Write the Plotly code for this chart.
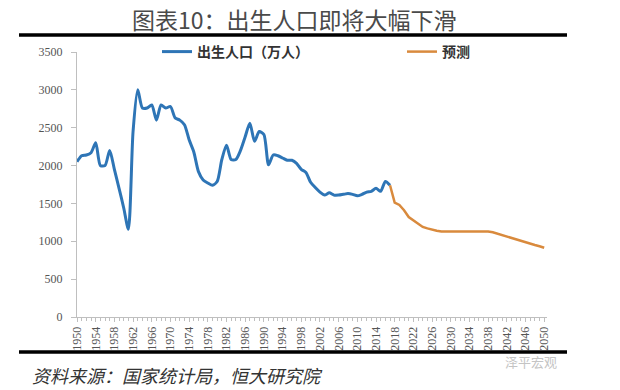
import plotly.graph_objects as go

# ---- data ----
hist_years = list(range(1950, 2018))
hist_births = [2050, 2130, 2140, 2170, 2300, 2000, 2000, 2200, 1950, 1700,
               1440, 1160, 2450, 3000, 2760, 2760, 2800, 2600, 2800, 2760,
               2780, 2630, 2600, 2540, 2340, 2180, 1920, 1810, 1770, 1740,
               1790, 2080, 2270, 2080, 2080, 2200, 2380, 2560, 2320, 2450,
               2410, 2010, 2140, 2130, 2100, 2070, 2070, 2030, 1950, 1910,
               1780, 1710, 1650, 1610, 1640, 1610, 1610, 1620, 1630, 1620,
               1600, 1620, 1650, 1660, 1700, 1660, 1790, 1740]
fc_years = list(range(2017, 2051))
fc_births = [1740, 1510, 1480, 1410, 1320, 1280, 1230, 1190, 1170, 1150,
             1140, 1130, 1130, 1130, 1130, 1130, 1130, 1130, 1130, 1130,
             1130, 1130, 1120, 1100, 1085, 1070, 1050, 1030, 1010, 990,
             970, 950, 935, 915]
tick_years = list(range(1950, 2051, 4))
y_ticks = list(range(0, 3501, 500))

title_text = "图表10：出生人口即将大幅下滑"
source_text = "资料来源：国家统计局，恒大研究院"
watermark_text = "泽平宏观"

# ---- geometry helpers (pixel -> paper) ----
W, H = 620, 390
ML, MR, MT, MB = 77, 73, 52, 73
PW, PH = W - ML - MR, H - MT - MB
def px(x):
    return (x - ML) / PW
def py(y):
    return (H - MB - y) / PH

fig = go.Figure()
fig.add_trace(go.Scatter(x=hist_years, y=hist_births, mode="lines",
                         name="出生人口（万人）", legend="legend",
                         line=dict(color="#2E75B6", width=3, shape="spline", smoothing=0.7)))
fig.add_trace(go.Scatter(x=fc_years, y=fc_births, mode="lines",
                         name="预测", legend="legend2",
                         line=dict(color="#D98A3D", width=2.5)))

legfont = dict(family="Noto Sans CJK SC", size=14, color="#333333", weight="bold")
tickfont = dict(family="Liberation Serif, Times New Roman, serif", size=12, color="#555555")
fig.update_layout(
    width=W, height=H,
    margin=dict(l=ML, r=MR, t=MT, b=MB, autoexpand=False),
    paper_bgcolor="white", plot_bgcolor="white",
    showlegend=True,
    legend=dict(xref="container", yref="container",
                x=157 / W, y=1 - 52 / H, xanchor="left", yanchor="middle",
                font=legfont, bgcolor="rgba(0,0,0,0)"),
    legend2=dict(xref="container", yref="container",
                 x=402 / W, y=1 - 52 / H, xanchor="left", yanchor="middle",
                 font=legfont, bgcolor="rgba(0,0,0,0)"),
    xaxis=dict(range=[1950, 2050.6], tickmode="array", tickvals=tick_years,
               ticktext=[str(v) for v in tick_years], tickangle=-90,
               showline=True, linecolor="#bfbfbf", linewidth=1,
               ticks="outside", ticklen=4, tickcolor="#bfbfbf",
               minor=dict(dtick=1, tick0=1950, ticks="outside", ticklen=3, tickcolor="#bfbfbf"),
               showgrid=False, zeroline=False, tickfont=tickfont),
    yaxis=dict(range=[0, 3500], tickvals=y_ticks,
               showline=True, linecolor="#bfbfbf", linewidth=1,
               ticks="outside", ticklen=5, tickcolor="#bfbfbf",
               showgrid=False, zeroline=False, tickfont=tickfont, ticklabelstandoff=6),
)

# rules
for yy in (35, 352):
    fig.add_shape(type="line", xref="paper", yref="paper",
                  x0=px(19), x1=px(567), y0=py(yy), y1=py(yy),
                  line=dict(color="black", width=3.5))

fig.add_annotation(text=title_text, xref="paper", yref="paper",
                   x=px(294), y=py(19), showarrow=False, xanchor="center", yanchor="middle",
                   font=dict(family="Noto Sans CJK SC", size=23, color="#4a4a4a"))
fig.add_annotation(text="<i>" + source_text + "</i>", xref="paper", yref="paper",
                   x=px(30), y=py(375), showarrow=False, xanchor="left", yanchor="middle",
                   font=dict(family="Noto Sans CJK SC", size=18, color="#333333"))
fig.add_annotation(text=watermark_text, xref="paper", yref="paper",
                   x=px(531), y=py(361), showarrow=False, xanchor="center", yanchor="middle",
                   font=dict(family="Noto Sans CJK SC", size=13, color="#c4c4c4"))

fig.write_html("out.html", config={"displayModeBar": False},
               post_script="document.body.style.margin='0';")
